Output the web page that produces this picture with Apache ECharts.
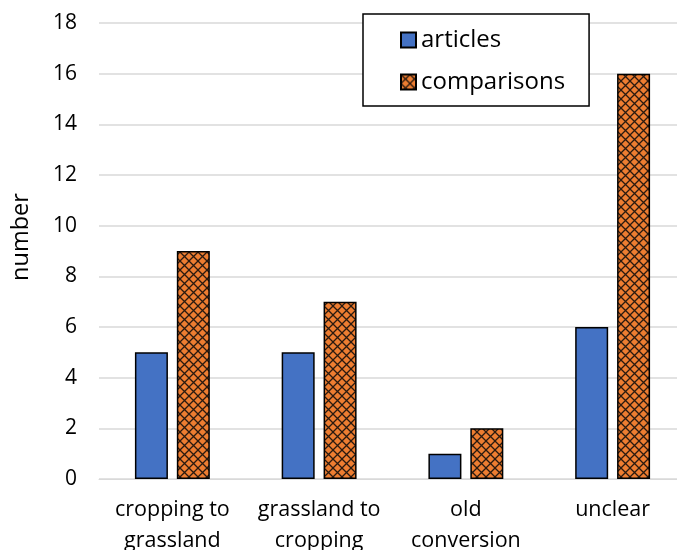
<!DOCTYPE html>
<html>
<head>
<meta charset="utf-8">
<script src="https://cdn.jsdelivr.net/npm/echarts@6/dist/echarts.min.js"></script>
<style>
  html, body { margin: 0; padding: 0; background: #fff; }
  #chart { width: 677px; height: 550px; }
</style>
</head>
<body>
<div id="chart"></div>
<script>
const categories = ['cropping to\ngrassland', 'grassland to\ncropping', 'old\nconversion', 'unclear'];
const articles = [5, 5, 1, 6];
const comparisons = [9, 7, 2, 16];
const yTicks = { min: 0, max: 18, interval: 2 };

// cross-hatch fill for the comparisons bars
function hatchPattern() {
  const s = 9;
  const c = document.createElement('canvas');
  c.width = s; c.height = s;
  const g = c.getContext('2d');
  g.fillStyle = '#ED7D31';
  g.fillRect(0, 0, s, s);
  g.strokeStyle = '#2a1a10';
  g.lineWidth = 1.3;
  g.beginPath();
  g.moveTo(0, 0); g.lineTo(s, s);
  g.moveTo(s, 0); g.lineTo(0, s);
  g.stroke();
  return c;
}

const font = '"Open Sans", "Noto Sans", sans-serif';
const chart = echarts.init(document.getElementById('chart'), null, { renderer: 'canvas' });
chart.setOption({
  animation: false,
  backgroundColor: '#fff',
  grid: { left: 99, right: -9, top: 23, bottom: 71, outerBoundsMode: 'none', containLabel: false },
  legend: {
    orient: 'vertical',
    left: 363, top: 14,
    padding: [14, 24, 12, 37],
    itemGap: 18,
    itemWidth: 15, itemHeight: 15,
    icon: 'rect',
    borderColor: '#000', borderWidth: 1.5,
    backgroundColor: '#fff',
    textStyle: { fontFamily: font, fontSize: 24, color: '#000' },
    data: ['articles', 'comparisons']
  },
  xAxis: {
    type: 'category',
    data: categories,
    axisLine: { lineStyle: { color: '#d9d9d9', width: 1 } },
    axisTick: { show: false },
    axisLabel: { interval: 0, fontFamily: font, fontSize: 21.5, color: '#000', lineHeight: 31, margin: 15 }
  },
  yAxis: {
    type: 'value',
    min: yTicks.min, max: yTicks.max, interval: yTicks.interval,
    name: 'number',
    nameLocation: 'middle',
    nameGap: 66,
    nameTextStyle: { fontFamily: font, fontSize: 23.5, color: '#000', padding: [0, 0, 0, 28] },
    axisLine: { show: false },
    axisTick: { show: false },
    axisLabel: { fontFamily: font, fontSize: 21, color: '#000', margin: 22 },
    splitLine: { lineStyle: { color: '#d9d9d9', width: 1.5 } }
  },
  series: [
    {
      name: 'articles', type: 'bar', data: articles,
      barWidth: 33, barGap: '27%',
      itemStyle: { color: '#4472C4', borderColor: '#000', borderWidth: 1.5 }
    },
    {
      name: 'comparisons', type: 'bar', data: comparisons,
      barWidth: 33,
      itemStyle: { color: { image: hatchPattern(), repeat: 'repeat' }, borderColor: '#000', borderWidth: 1.5 }
    }
  ]
});
</script>
</body>
</html>
